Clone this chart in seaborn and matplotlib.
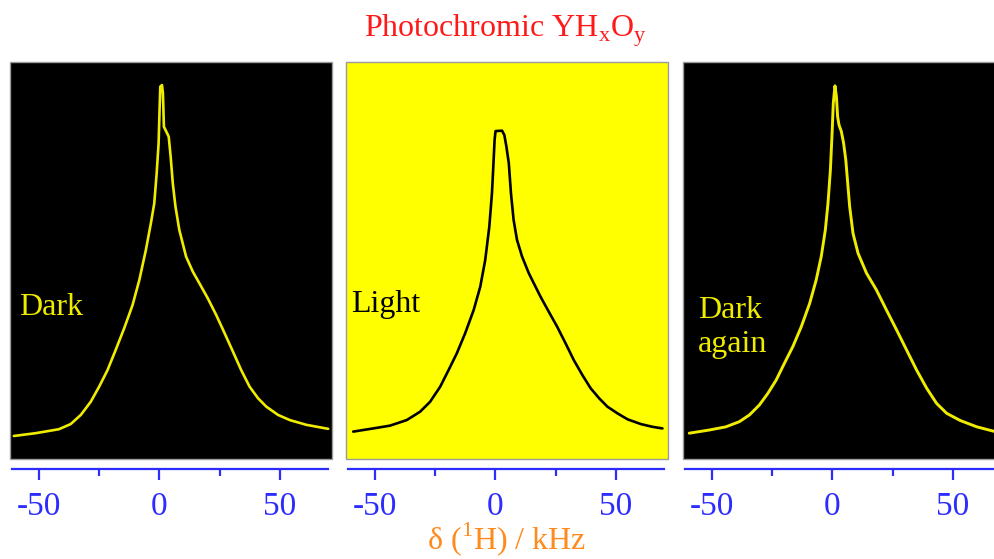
import matplotlib
matplotlib.use("Agg")
import matplotlib.pyplot as plt
from matplotlib.ticker import FixedLocator
import seaborn as sns

# 1H MAS spectra: shift in kHz, intensity in % of panel height
dark_shift = [-60.4, -51.4, -41.7, -36.8, -32.6, -28.5, -25.0, -21.5, -18.1, -14.6,
              -11.1, -8.3, -5.6, -3.5, -2.1, -1.1, -0.3, 0.1, 0.4, 1.1,
              1.5, 1.9, 3.1, 3.9, 4.7, 5.6, 6.7, 8.3, 11.1, 13.9,
              16.7, 20.1, 23.6, 27.1, 30.6, 34.0, 37.5, 41.0, 44.4, 49.3,
              54.2, 61.1, 70.1]
dark_int = [5.8, 6.5, 7.5, 8.8, 11.1, 14.4, 18.2, 22.4, 27.5, 32.9,
            38.8, 45.1, 52.6, 59.4, 64.4, 72.0, 79.5, 87.9, 93.8, 94.2,
            92.1, 83.7, 82.2, 81.2, 76.2, 69.4, 63.6, 57.7, 51.0, 47.2,
            44.2, 40.5, 36.3, 31.7, 27.0, 22.4, 18.2, 15.3, 13.2, 11.1,
            9.8, 8.6, 7.6]

light_shift = [-59.0, -50.7, -43.75, -36.8, -31.25, -27.1, -22.9, -19.4, -16.0, -12.5,
               -9.0, -6.25, -4.2, -2.5, -1.4, -0.7, -0.3, 0.1, 2.8, 3.75,
               4.6, 5.6, 6.5, 7.6, 9.0, 11.1, 13.9, 18.75, 22.2, 25.7,
               29.2, 32.6, 36.1, 39.6, 43.1, 46.5, 50.7, 54.9, 60.4, 65.3,
               69.4]
light_int = [6.9, 7.7, 8.4, 9.8, 11.9, 14.4, 18.2, 22.4, 26.6, 31.7,
             37.5, 43.4, 50.1, 58.5, 66.9, 75.3, 80.4, 82.6, 82.7, 81.6,
             78.7, 74.5, 66.9, 60.2, 55.2, 51.0, 46.8, 40.9, 37.1, 33.3,
             29.1, 24.9, 21.2, 17.8, 15.3, 13.2, 11.5, 10.0, 8.8, 8.1,
             7.7]

again_shift = [-59.4, -51.1, -44.2, -38.6, -34.4, -30.3, -26.8, -23.3, -19.9, -16.4,
               -12.9, -9.4, -6.7, -4.6, -2.9, -1.8, -0.8, -0.1, 0.4, 1.1,
               1.7, 2.2, 2.8, 3.75, 4.7, 5.6, 6.4, 7.2, 8.6, 10.7,
               14.2, 18.3, 22.5, 26.7, 30.8, 35.0, 39.2, 43.3, 47.5, 53.1,
               60.0, 67.6]
again_int = [6.5, 7.3, 8.1, 9.4, 11.1, 13.6, 16.5, 19.9, 24.1, 28.3,
             33.3, 39.2, 45.1, 51.0, 57.7, 64.4, 72.8, 82.0, 89.6, 94.0,
             91.3, 86.2, 84.1, 82.5, 79.5, 75.3, 69.4, 63.6, 56.8, 51.8,
             46.8, 42.6, 37.5, 32.5, 27.5, 22.4, 17.8, 14.0, 11.5, 9.7,
             8.1, 6.9]

panel_labels = ["Dark", "Light", "Dark\nagain"]
major_ticks = [-50, 0, 50]
minor_ticks = [-25, 25]

sns.set_theme(style="white")
plt.rcParams["font.family"] = ["Liberation Serif", "DejaVu Serif"]
plt.rcParams["mathtext.fontset"] = "custom"
plt.rcParams["mathtext.rm"] = "Liberation Serif"
plt.rcParams["axes.unicode_minus"] = False

YEL = "#f0ec00"
BLUE = "#2c2cff"

fig = plt.figure(figsize=(9.94, 5.59), dpi=100)
lefts = [10 / 994, 346 / 994, 683 / 994]
label_pos = [(0.028, 0.363), (0.016, 0.370), (0.046, 0.270)]
panels = [
    (dark_shift, dark_int, "black", YEL, 1.9),
    (light_shift, light_int, "#ffff00", "black", 1.9),
    (again_shift, again_int, "black", YEL, 2.1),
]

for i, (xs, ys, bg, fg, lw) in enumerate(panels):
    ax = fig.add_axes([lefts[i], 100 / 559, 322 / 994, 397 / 559])
    ax.set_facecolor(bg)
    ax.patch.set_edgecolor("#9a9a9a")
    ax.patch.set_linewidth(1.0)
    sns.lineplot(x=xs, y=ys, ax=ax, color=fg, linewidth=lw, sort=False)
    ax.set_xlim(-62, 71.7)
    ax.set_ylim(0, 100)
    ax.set_yticks([])
    for s in ["top", "left", "right"]:
        ax.spines[s].set_visible(False)
    sp = ax.spines["bottom"]
    sp.set_position(("outward", 7.5))
    sp.set_color(BLUE)
    sp.set_linewidth(1.6)
    sp.set_bounds(-61, 70)
    ax.xaxis.set_major_locator(FixedLocator(major_ticks))
    ax.xaxis.set_minor_locator(FixedLocator(minor_ticks))
    ax.tick_params(axis="x", which="major", direction="out", length=8, width=1.6,
                   color=BLUE, labelcolor=BLUE, labelsize=24, pad=8, bottom=True)
    ax.tick_params(axis="x", which="minor", direction="out", length=5, width=1.6,
                   color=BLUE, bottom=True)
    ax.set_xlabel("")
    tx, ty = label_pos[i]
    ax.text(tx, ty, panel_labels[i], transform=ax.transAxes, color=fg,
            fontsize=23, va="baseline", ha="left", linespacing=1.2)
    ax.grid(False)

fig.text(0.508, 0.935, r"Photochromic YH$_{\rm x}$O$_{\rm y}$", color="#ff1a1a",
         fontsize=23, ha="center", va="baseline")
fig.text(0.51, 0.018, r"δ ($^{\rm 1}$H) / kHz", color="#ff8a1e",
         fontsize=23, ha="center", va="baseline")

fig.savefig("out.png", dpi=100, facecolor="white")
